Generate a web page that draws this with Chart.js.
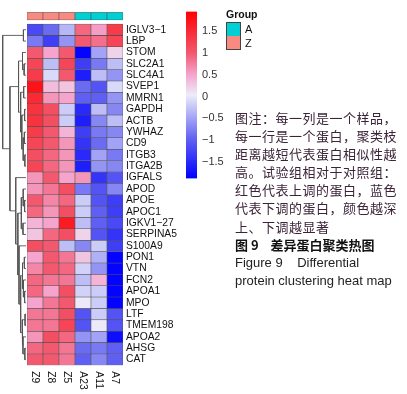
<!DOCTYPE html>
<html>
<head>
<meta charset="utf-8">
<script src="https://cdn.jsdelivr.net/npm/chart.js@4"></script>
<style>
  body { margin:0; width:407px; height:394px; background:#fff; position:relative; overflow:hidden;
         font-family:"Liberation Sans", Arial, sans-serif; }
  canvas { position:absolute; top:0; }
  #dendro { left:2px; }
  #heat   { left:27px; }
  #scale  { left:186px; }
  .legend { position:absolute; left:226px; top:8px; font-size:11px; color:#111; }
  .legend b { display:block; font-size:10.5px; margin-bottom:2px; }
  .legend .it { height:14px; line-height:14px; }
  .legend .box { display:inline-block; width:13px; height:13px; border:1px solid #444; vertical-align:top; margin-right:4px; }
  .legend .it + .it .box { border-top:none; height:13px; }
  .caption { position:absolute; left:235px; top:109px; line-height:18.1px; font-size:13px; color:#3b2438; white-space:nowrap; }
  .caption .cn { font-family:"Noto Sans CJK SC", sans-serif; letter-spacing:0.5px; }
  .caption .title { font-family:"Noto Sans CJK SC", sans-serif; font-weight:bold; color:#111; }
  .caption .en { font-family:"Liberation Sans", Arial, sans-serif; color:#222; }
</style>
</head>
<body>
<canvas id="dendro" width="24" height="394"></canvas>
<canvas id="heat" width="160" height="394"></canvas>
<canvas id="scale" width="50" height="190"></canvas>

<div class="legend">
  <b>Group</b>
  <div class="it"><span class="box" style="background:#00D0D4"></span>A</div>
  <div class="it"><span class="box" style="background:#F98A82"></span>Z</div>
</div>

<div class="caption">
  <div class="cn">图注：每一列是一个样品，</div>
  <div class="cn">每一行是一个蛋白，聚类枝</div>
  <div class="cn">距离越短代表蛋白相似性越</div>
  <div class="cn">高。试验组相对于对照组：</div>
  <div class="cn">红色代表上调的蛋白，蓝色</div>
  <div class="cn">代表下调的蛋白，颜色越深</div>
  <div class="cn">上、下调越显著</div>
  <div class="title">图 9&nbsp;&nbsp;&nbsp;&nbsp;差异蛋白聚类热图</div>
  <div class="en">Figure 9&nbsp;&nbsp;&nbsp;&nbsp;Differential</div>
  <div class="en">protein clustering heat map</div>
</div>

<script>
// ─── Data ────────────────────────────────────────────────────────────────────
const samples = ['Z9', 'Z8', 'Z5', 'A23', 'A11', 'A7'];
const groups  = ['Z', 'Z', 'Z', 'A', 'A', 'A'];

const rowNames = [
  'IGLV3-1', 'LBP', 'STOM', 'SLC2A1', 'SLC4A1', 'SVEP1', 'MMRN1', 'GAPDH', 'ACTB', 'YWHAZ',
  'CD9', 'ITGB3', 'ITGA2B', 'IGFALS', 'APOD', 'APOE', 'APOC1', 'IGKV1-27', 'SERPINA5', 'S100A9',
  'PON1', 'VTN', 'FCN2', 'APOA1', 'MPO', 'LTF', 'TMEM198', 'APOA2', 'AHSG', 'CAT'
];

// row-scaled expression, one array per sample (same order as rowNames)
const colZ9  = [-1.2, -0.8, 1.0, 1.2, 1.3, 1.75, 1.5, 1.4, 1.4, 1.3, 1.2, 1.1, 1.2, 0.6, 0.6, 1.0, 0.9, 0.4, 0.3, 1.1, 0.5, 0.7, 0.9, 0.9, 0.5, 0.8, 0.8, 0.6, 0.9, 1.0];
const colZ8  = [-0.9, -1.3, 0.5, -0.3, -0.1, 0.35, 0.6, 1.1, 1.1, 1.0, 1.0, 0.9, 0.9, 1.0, 0.8, 0.7, 0.6, 0.5, 0.9, 1.0, 1.0, 1.0, 0.8, 0.5, 0.8, 0.8, 0.8, 1.1, 1.0, 1.0];
const colZ5  = [-0.35, -0.6, 1.0, 1.2, 1.0, 0.3, 0.5, -0.2, -0.2, 0.4, 0.6, 0.6, 0.6, 0.5, 1.1, 0.9, 1.1, 1.65, 1.1, -0.3, 0.8, 0.9, 0.8, 1.1, 1.0, 1.1, 1.2, 0.9, 0.8, 0.8];
const colA23 = [0.9, 1.0, -1.85, -1.3, -1.6, -0.9, -1.0, -1.5, -1.6, -1.3, -1.4, -1.5, -1.6, 0.6, -0.8, -0.2, -0.2, -0.3, 0.2, -0.7, 0.3, -0.15, -0.3, -0.15, 0.05, -1.1, -1.1, -0.6, -0.9, -1.0];
const colA11 = [0.55, 0.85, -0.5, -0.8, -0.3, -1.1, -1.0, -0.3, -0.7, -0.8, -0.9, -0.5, -0.6, -1.4, -1.1, -1.1, -1.0, -1.0, -1.1, -0.2, -0.4, -0.6, 0.4, -0.2, -0.2, -0.2, 0.05, -0.5, -0.8, -0.7];
const colA7  = [1.3, 1.2, 0.2, -0.3, -0.6, -0.1, -0.6, -0.7, -0.3, -0.7, -0.5, -0.8, -0.7, -1.1, -0.7, -1.3, -1.3, -1.2, -1.4, -1.3, -1.85, -1.85, -1.85, -1.85, -1.85, -1.1, -1.1, -1.75, -1.0, -1.0];
const sampleCols = [colZ9, colZ8, colZ5, colA23, colA11, colA7];

// row dendrogram, hclust style: negative = leaf (row index + 1), positive = earlier merge
const merges = [
  [-4, -5], [-3, 1], [-6, -7], [-8, -9], [-10, -11], [-12, -13], [5, 6], [4, 7], [3, 8], [2, 9],
  [-1, -2], [-16, -17], [-15, 12], [-18, -19], [13, 14], [-21, -22], [-24, -25], [-23, 17], [16, 18],
  [-26, -27], [-29, -30], [-28, 21], [20, 22], [19, 23], [-20, 24], [15, 25], [-14, 26], [10, 27], [11, 28]
];
const mergeHeights = [0.8, 1.5, 1.0, 0.6, 0.7, 0.5, 1.2, 1.8, 2.3, 3.2, 1.1, 0.6, 1.2, 1.3, 2.0, 0.7,
                      0.6, 1.1, 1.5, 0.4, 0.5, 1.3, 1.7, 2.3, 3.0, 3.5, 4.4, 6.9, 10.0];

// colour scale
const colorMin = -1.88, colorMax = 1.95;
const colorTicks = [-1.5, -1, -0.5, 0, 0.5, 1, 1.5];

// ─── Styles ──────────────────────────────────────────────────────────────────
const FONT_FAMILY = '"Liberation Sans", Arial, sans-serif';
const groupColors = { A: '#00D0D4', Z: '#F98A82' };
const colorStops = [
  [-1.88, [0, 0, 255]],
  [-0.95, [100, 100, 242]],
  [0.035, [236, 236, 250]],
  [0.5,   [245, 165, 205]],
  [1.0,   [242, 88, 110]],
  [1.95,  [255, 0, 0]]
];
const ANNO_H = 0.68, GAP_H = 0.35;
const rowTop = ANNO_H + GAP_H;
const yMax = rowTop + rowNames.length;
const PAD_TOP = 12.3, PAD_BOTTOM = 28.7;

function heatColor(v) {
  v = Math.max(colorMin, Math.min(colorMax, v));
  for (let i = 1; i < colorStops.length; i++) {
    const [v1, c1] = colorStops[i];
    if (v <= v1) {
      const [v0, c0] = colorStops[i - 1];
      const t = (v - v0) / (v1 - v0);
      const c = c0.map((x, k) => Math.round(x + (c1[k] - x) * t));
      return `rgb(${c[0]},${c[1]},${c[2]})`;
    }
  }
  return 'rgb(255,0,0)';
}

// ─── Heatmap ─────────────────────────────────────────────────────────────────
const colLabels = {
  id: 'colLabels',
  afterDraw(chart) {
    const { ctx, chartArea, scales } = chart;
    ctx.save();
    ctx.fillStyle = '#111';
    ctx.font = '10.3px ' + FONT_FAMILY;
    ctx.textAlign = 'left';
    ctx.textBaseline = 'middle';
    samples.forEach((s, i) => {
      ctx.save();
      ctx.translate(scales.x.getPixelForValue(i), chartArea.bottom + 6);
      ctx.rotate(Math.PI / 2);
      ctx.fillText(s, 0, 0);
      ctx.restore();
    });
    ctx.restore();
  }
};

new Chart(document.getElementById('heat'), {
  type: 'bar',
  data: {
    labels: samples,
    datasets: [
      { label: 'Group', data: samples.map(() => ANNO_H), backgroundColor: groups.map(g => groupColors[g]),
        borderColor: '#444', borderWidth: 0.6 },
      { label: 'gap', data: samples.map(() => GAP_H), backgroundColor: 'rgba(0,0,0,0)', borderWidth: 0 },
      ...rowNames.map((name, r) => ({
        label: name,
        data: samples.map(() => 1),
        backgroundColor: sampleCols.map(col => heatColor(col[r])),
        borderColor: '#505050',
        borderWidth: 0.6
      }))
    ]
  },
  options: {
    responsive: false,
    animation: false,
    layout: { padding: { top: PAD_TOP, bottom: PAD_BOTTOM, left: 0, right: 0 } },
    datasets: { bar: { categoryPercentage: 1, barPercentage: 1, borderSkipped: false } },
    plugins: { legend: { display: false }, tooltip: { enabled: false } },
    scales: {
      x: { stacked: true, display: false },
      y: {
        stacked: true, min: 0, max: yMax, reverse: true, position: 'right',
        grid: { display: false, drawTicks: false, tickLength: 0 }, border: { display: false },
        afterBuildTicks: s => { s.ticks = rowNames.map((_, i) => ({ value: rowTop + i + 0.5 })); },
        afterFit: s => { s.width = 64; },
        ticks: {
          autoSkip: false, padding: 3, color: '#111',
          font: { family: FONT_FAMILY, size: 10.3 },
          callback: (v, i) => rowNames[i].replace('-', '\u2212')
        }
      }
    }
  },
  plugins: [colLabels]
});

// ─── Row dendrogram ──────────────────────────────────────────────────────────
function dendroSegments() {
  const nodes = [];
  const node = id => id < 0 ? { y: rowTop + (-id - 1) + 0.5, h: 0 } : nodes[id - 1];
  return merges.map(([a, b], k) => {
    const A = node(a), B = node(b), h = mergeHeights[k];
    nodes.push({ y: (A.y + B.y) / 2, h });
    return [{ x: A.h, y: A.y }, { x: h, y: A.y }, { x: h, y: B.y }, { x: B.h, y: B.y }];
  });
}

new Chart(document.getElementById('dendro'), {
  type: 'line',
  data: {
    datasets: dendroSegments().map(seg => ({
      data: seg, borderColor: '#555', borderWidth: 0.9, pointRadius: 0, tension: 0, clip: false
    }))
  },
  options: {
    responsive: false,
    animation: false,
    layout: { padding: { top: PAD_TOP, bottom: PAD_BOTTOM, left: 0, right: 0 } },
    plugins: { legend: { display: false }, tooltip: { enabled: false } },
    scales: {
      x: { type: 'linear', min: 0, max: 10.3, reverse: true, display: false },
      y: { type: 'linear', min: 0, max: yMax, reverse: true, display: false }
    }
  }
});

// ─── Colour key ──────────────────────────────────────────────────────────────
new Chart(document.getElementById('scale'), {
  type: 'bar',
  data: {
    labels: [''],
    datasets: [{
      data: [[colorMin, colorMax]],
      borderWidth: 0,
      categoryPercentage: 1,
      barPercentage: 1,
      backgroundColor: c => {
        const ch = c.chart, y = ch.scales.y;
        if (!ch.chartArea || !y) return '#ddd';
        const g = ch.ctx.createLinearGradient(0, y.getPixelForValue(colorMin), 0, y.getPixelForValue(colorMax));
        colorStops.forEach(([v, rgb]) =>
          g.addColorStop((v - colorMin) / (colorMax - colorMin), `rgb(${rgb[0]},${rgb[1]},${rgb[2]})`));
        return g;
      }
    }]
  },
  options: {
    responsive: false,
    animation: false,
    layout: { padding: { top: 10, bottom: 10, left: 0, right: 0 } },
    plugins: { legend: { display: false }, tooltip: { enabled: false } },
    scales: {
      x: { display: false },
      y: {
        min: colorMin, max: colorMax, position: 'right',
        grid: { display: false, drawTicks: false, tickLength: 0 }, border: { display: false },
        afterBuildTicks: s => { s.ticks = colorTicks.map(v => ({ value: v })); },
        afterFit: s => { s.width = 39; },
        ticks: {
          padding: 5, color: '#333',
          font: { family: FONT_FAMILY, size: 11 },
          callback: v => v < 0 ? '\u2212' + Math.abs(v) : String(v)
        }
      }
    }
  }
});
</script>
</body>
</html>
